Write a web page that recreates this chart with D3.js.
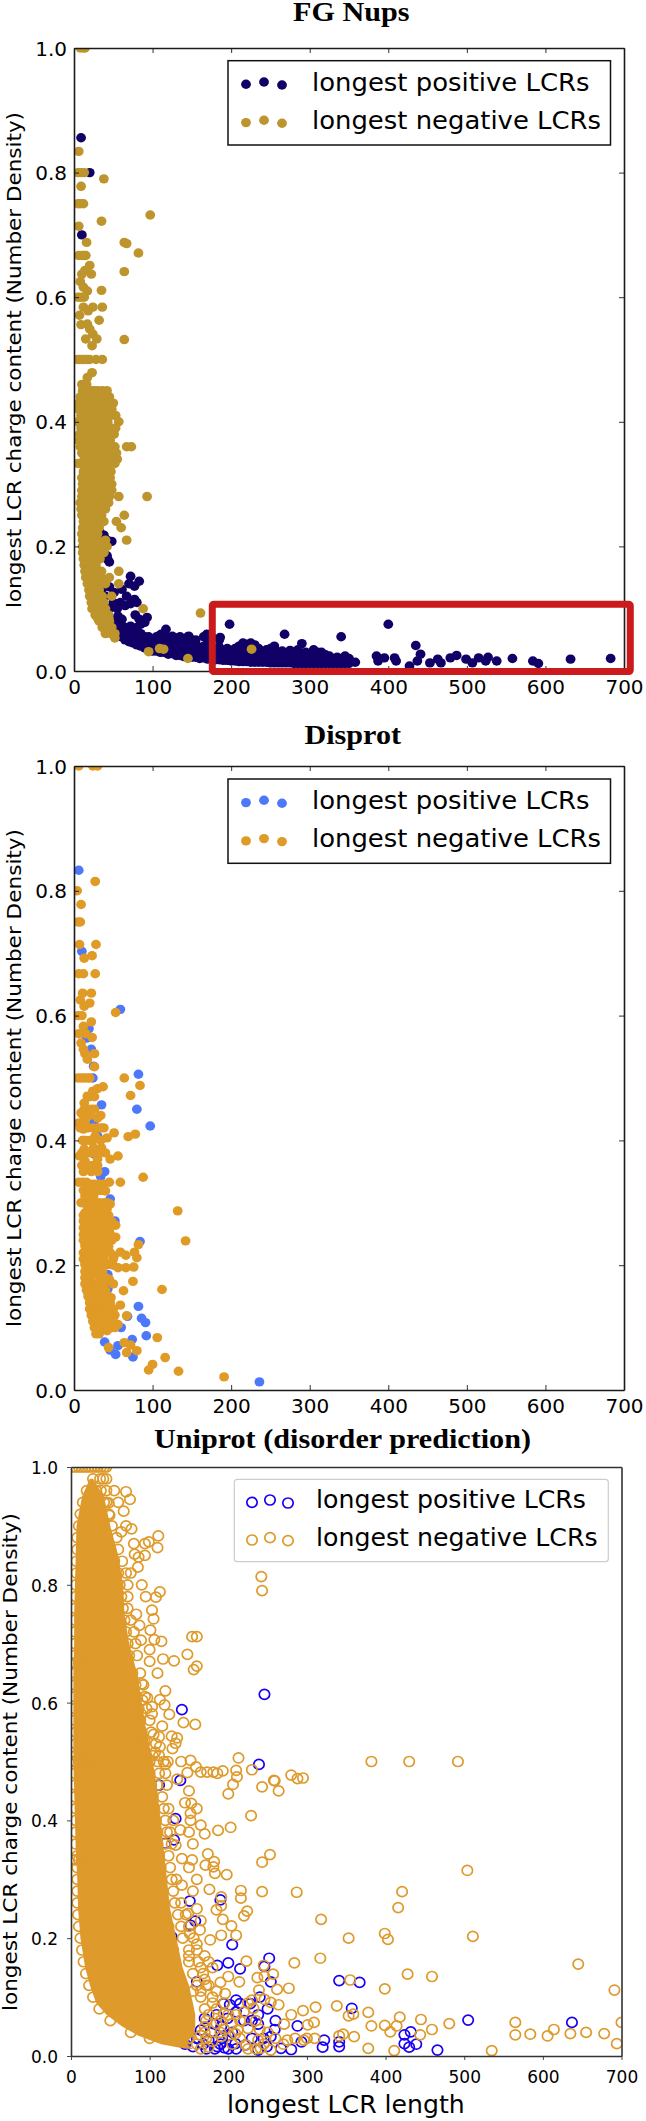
<!DOCTYPE html>
<html><head><meta charset="utf-8">
<script src="https://cdn.jsdelivr.net/npm/d3@7"></script>
<style>html,body{margin:0;padding:0;background:#fff}svg{display:block}</style>
</head><body>
<script>
// ---- shared ticks and labels
const xTicks = [0,100,200,300,400,500,600,700];
const yTicks = [0,0.2,0.4,0.6,0.8,1.0];
const yAxisTitle = "longest LCR charge content (Number Density)";
const xAxisTitle = "longest LCR length";
const seriesNames = ["longest positive LCRs","longest negative LCRs"];
const panelTitles = ["FG Nups","Disprot","Uniprot (disorder prediction)"];

// ---- FG Nups: positive LCRs
const fgPositive = [[9,.856],[20,.8],[10,.7],[30,.29],[35,.257],[28,.225],[33,.222],[38,.218],[42,.21],[48,.208],[30,.205],[36,.2],[43,.179],[45,.175],[42,.185],
[72,.152],[83,.144],[77,.136],[70,.14],[61,.131],[67,.12],[77,.115],[51,.126],[59,.11],[35,.131],[45,.135],[40,.12],[55,.1],[65,.105],[72,.108],[80,.11],[50,.11],[45,.1],[56,.088],[61,.083],[56,.072],[93,.086],[83,.083],[72,.072],[85,.075],[78,.09],[90,.078],[117,.067],[111,.059],[130,.053],[146,.056],[169,.059],[186,.054],[198,.075],[268,.059],[290,.044],[340,.055],[400,.075],[435,.041],[441,.027],[437,.016],[427,.008],[385,.024],[387,.016],[395,.021],[408,.021],[410,.016],[453,.013],[463,.019],[467,.013],[479,.021],[487,.025],[499,.019],[507,.013],[515,.021],[524,.016],[527,.022],[538,.016],[558,.02],[584,.016],[591,.012],[632,.019],[683,.02]];
const fgPositiveColumns = [[55,[.06,.07,.08]],[60,[.055,.065,.075]],[65,[.05,.06,.07]],[70,[.047,.055,.065]],[75,[.045,.055,.065]],[80,[.042,.05,.06,.07]],[85,[.04,.05,.06]],[90,[.037,.045,.055]],[95,[.035,.045,.055]],[100,[.032,.04,.05]],[105,[.032,.043,.055]],[110,[.03,.038,.048,.058]],[115,[.03,.04,.05,.06]],[120,[.027,.035,.045,.052]],[125,[.028,.038,.048,.056]],[130,[.025,.032,.042,.05]],[135,[.025,.035,.045,.055]],[140,[.023,.03,.04,.052]],[145,[.024,.034,.044,.055]],[150,[.022,.03,.04,.05]],[155,[.022,.032,.042,.05]],[160,[.02,.028,.038]],[165,[.021,.03,.04,.055]],[170,[.019,.027,.035,.05]],[175,[.02,.03,.04,.055]],[180,[.018,.026,.034]],[185,[.018,.028,.038,.05]],[190,[.017,.025,.033]],[195,[.017,.027,.036]],[200,[.016,.024,.032]],[205,[.016,.026,.036]],[210,[.015,.023,.033,.04]],[215,[.015,.025,.035,.045]],[220,[.015,.023,.033,.043]],[225,[.014,.024,.034,.045]],[230,[.014,.022,.032,.042]],[235,[.014,.024,.036]],[240,[.014,.022,.03]],[245,[.014,.024,.034]],[250,[.013,.021,.03,.036]],[255,[.013,.023,.033,.04]],[260,[.013,.02,.03]],[265,[.013,.023,.032]],[270,[.013,.02,.028]],[275,[.013,.023,.033]],[280,[.012,.02,.03]],[285,[.012,.022,.034]],[290,[.012,.02,.028]],[295,[.012,.022,.03]],[300,[.012,.02,.026]],[305,[.012,.022,.034]],[310,[.012,.02,.03]],[315,[.012,.022,.03]],[320,[.012,.019,.026]],[325,[.012,.024]],[330,[.012,.02]],[335,[.012,.022]],[340,[.012,.02]],[345,[.012,.024]],[350,[.012,.02]],[358,[.014]]];

// ---- FG Nups: negative LCRs
const fgNegative = [[8,1],[12,1],[14,1],[6,.834],[5,.8],[9,.8],[13,.8],[38,.79],[9,.778],[5,.75],[8,.75],[12,.75],[6,.714],[35,.722],[97,.732],[16,.688],[64,.688],[67,.686],[82,.671],[6,.667],[10,.667],[13,.667],[15,.667],[20,.651],[22,.637],[14,.643],[10,.637],[64,.641],[8,.625],[12,.616],[17,.61],[35,.611],[5,.6],[9,.6],[13,.6],[12,.584],[18,.578],[24,.584],[36,.584],[7,.571],[9,.556],[17,.557],[32,.563],[20,.549],[24,.541],[15,.533],[29,.533],[64,.532],[23,.522],[4,.5],[7,.5],[10,.5],[13,.5],[17,.5],[20,.5],[28,.5],[36,.5],[23,.479],[17,.471],[13,.46],[161,.093],[95,.031],[109,.036],[114,.035],[145,.02],[226,.035]];
const fgNegativeRows = [[.46,[10,16]],[.45,[11,14,18,22,26,30,36,42]],[.44,[8,12,16,22,28,35,40,45]],[.43,[6,10,14,20,26,34,44,50]],[.42,[6,10,15,22,26,33,38,42,48]],[.41,[9,14,19,24,30,35,40,46,53]],[.40,[5,10,14,18,24,31,37,43,57]],[.39,[9,14,20,25,32,37,42,47,53]],[.38,[7,12,18,24,30,36,40,44,51]],[.37,[6,10,14,20,27,33,38,42,46]],[.36,[8,12,17,22,29,36,44,52,67,73]],[.35,[10,15,21,28,35,42,48,54]],[.34,[13,18,24,30,38,46,55]],[.333,[5,9,13,17,21,25,30,38,42,46,52]],[.32,[12,16,22,27,32,36,42,47]],[.31,[10,14,19,26,31,35,40,46]],[.30,[11,15,20,25,30,35,40,44,48]],[.29,[10,14,19,24,29,34,38,44,48]],[.28,[10,15,20,25,30,36,40,45,57,93]],[.27,[8,12,17,22,28,32,36,44]],[.26,[9,14,20,26,30,35,40]],[.25,[10,14,20,26,31,35,64]],[.24,[12,16,22,27,31,38,54]],[.23,[11,15,20,26,32,60]],[.22,[10,14,18,23,30]],[.21,[11,16,22,26,30,40,67]],[.20,[11,15,20,26,31,36,42]],[.19,[11,14,19,24,29,38]],[.18,[12,16,22,28,33]],[.17,[13,17,23,28]],[.16,[14,18,22,28,35,57]],[.15,[15,20,25,30,35,45]],[.14,[17,22,28,34,40,57]],[.13,[19,24,28,32]],[.12,[20,25,31,36,48]],[.11,[22,27,32,38]],[.10,[23,28,36,40,88]],[.09,[27,32,38,44]],[.085,[30,36,44]],[.08,[32,38,45]],[.07,[36,42,48]],[.06,[40,47,52]],[.053,[52]]];
const fgHighlightX = [176,708];
const fgHighlightY = [-0.001,0.107];

// ---- Disprot
const disprotPositive = [[6,.833],[10,.703],[59,.61],[19,.579],[16,.564],[22,.546],[25,.519],[82,.506],[24,.5],[35,.457],[80,.45],[97,.423],[25,.428],[30,.407],[12,.4],[26,.378],[39,.35],[34,.342],[46,.306],[52,.271],[84,.238],[30,.217],[43,.185],[18,.156],[43,.162],[82,.134],[29,.135],[48,.124],[68,.118],[86,.115],[91,.108],[46,.111],[60,.1],[92,.087],[74,.081],[39,.077],[56,.071],[53,.057],[75,.053],[46,.064],[236,.013]];
const disprotNegative = [[6,1],[24,1],[30,1],[27,.815],[4,.8],[9,.778],[5,.75],[8,.75],[7,.714],[28,.714],[13,.692],[23,.696],[6,.667],[12,.667],[27,.667],[11,.636],[22,.636],[8,.625],[20,.62],[13,.615],[5,.6],[10,.6],[53,.605],[22,.59],[12,.583],[6,.571],[15,.571],[23,.565],[9,.556],[12,.546],[26,.539],[14,.539],[17,.53],[26,.518],[64,.5],[5,.5],[9,.5],[13,.5],[17,.5],[20,.5],[37,.486],[30,.483],[84,.488],[72,.472],[24,.479],[17,.471],[13,.46],[9,.444],[17,.45],[30,.436],[6,.428],[14,.428],[38,.42],[51,.412],[42,.404],[69,.406],[78,.41],[12,.418],[27,.407],[11,.4],[25,.388],[35,.388],[13,.386],[7,.375],[56,.375],[46,.37],[30,.37],[14,.367],[19,.356],[88,.341],[59,.333],[6,.333],[11,.333],[16,.333],[45,.333],[27,.322],[40,.319],[14,.311],[25,.311],[46,.298],[9,.3],[132,.287],[17,.295],[30,.292],[14,.284],[35,.279],[12,.271],[22,.276],[53,.264],[30,.265],[17,.26],[12,.249],[53,.245],[32,.241],[142,.239],[82,.233],[14,.231],[22,.233],[43,.225],[77,.221],[59,.221],[66,.216],[80,.212],[51,.215],[14,.215],[22,.209],[30,.204],[43,.201],[14,.201],[56,.196],[66,.196],[76,.197],[17,.188],[27,.188],[45,.177],[75,.174],[35,.169],[17,.172],[112,.161],[63,.159],[22,.164],[30,.161],[47,.148],[25,.145],[35,.143],[59,.136],[46,.129],[27,.129],[67,.119],[43,.116],[30,.116],[56,.105],[33,.103],[48,.1],[42,.095],[106,.084],[64,.076],[72,.072],[44,.068],[80,.063],[67,.06],[116,.052],[100,.041],[95,.032],[133,.03],[191,.021]];
const disprotNegativeRows = [[.47,[20,26]],[.45,[13,22,26]],[.44,[12,20,34]],[.42,[8,18,24,30,35]],[.40,[16,20,24,34]],[.38,[10,18,22,28,32,40]],[.36,[10,18,24,30]],[.35,[12,22,30]],[.33,[21,26,32,38]],[.32,[12,18,22,32,36]],[.30,[12,20,26,32,38,42]],[.29,[22,26,34,42]],[.28,[12,18,25,28,38,44]],[.27,[16,20,30,34,42,48]],[.26,[12,24,28,36,46]],[.25,[16,20,24,30,36,40,46]],[.24,[12,18,24,28,40,48]],[.23,[18,30,36,44]],[.22,[12,18,20,26,34,40,46]],[.21,[12,18,28,32,38,50]],[.20,[20,26,34,50]],[.19,[14,18,22,24,30,36]],[.18,[14,20,32,37,40]],[.17,[14,24,28,38,50]],[.16,[16,20,26,34,40]],[.15,[18,22,24,32,38,44]],[.14,[20,24,28,32,40,46]],[.13,[20,24,30,32,38,50]],[.12,[22,26,34,40,46,52]],[.11,[24,28,34,38,42,50]],[.10,[26,30,36,44,52]],[.09,[28,32]]];

// ---- Uniprot
const uniprotPositive = [[141,.588],[246,.614],[239,.495],[139,.468],[86,.477],[112,.46],[133,.403],[131,.367],[120,.361],[190,.265],[151,.263],[158,.229],[152,.222],[205,.189],[128,.202],[252,.166],[186,.154],[200,.158],[246,.152],[215,.148],[254,.126],[160,.126],[341,.128],[367,.125],[357,.081],[210,.095],[202,.087],[215,.089],[228,.089],[194,.089],[238,.07],[238,.054],[505,.061],[637,.057],[288,.051],[259,.045],[254,.033],[293,.024],[322,.027],[320,.015],[341,.024],[341,.016],[432,.041],[424,.036],[424,.021],[439,.02],[430,.015],[466,.01],[280,.011],[267,.013],[249,.016],[209,.021],[186,.016],[195,.014],[155,.016],[175,.027],[165,.044],[181,.055],[191,.05],[170,.064],[199,.064],[238,.01],[222,.019],[172,.012],[183,.012],[192,.03],[205,.04],[220,.06],[210,.075],[200,.035],[178,.04],[185,.07],[160,.03],[145,.02],[150,.04],[168,.02],[190,.02],[200,.012],[210,.012],[230,.03],[245,.03],[260,.06],[230,.06],[240,.1],[250,.08]];
const uniprotNegative = [[70,.958],[75,.945],[67,.925],[48,.939],[49,.918],[64,.89],[77,.895],[111,.883],[94,.87],[99,.873],[110,.863],[94,.85],[81,.852],[86,.847],[113,.788],[108,.779],[103,.757],[105,.742],[83,.75],[101,.723],[87,.731],[154,.712],[160,.712],[106,.707],[115,.704],[89,.706],[117,.674],[131,.671],[148,.682],[160,.662],[156,.656],[242,.814],[243,.79],[90,.632],[97,.608],[113,.605],[119,.596],[91,.604],[103,.593],[89,.581],[103,.581],[143,.566],[158,.563],[116,.56],[105,.546],[112,.542],[128,.543],[133,.531],[129,.522],[113,.525],[107,.516],[94,.533],[213,.506],[382,.5],[430,.5],[492,.5],[152,.502],[123,.5],[120,.495],[159,.491],[148,.481],[165,.482],[173,.482],[181,.482],[193,.484],[186,.48],[210,.485],[230,.486],[258,.468],[280,.477],[288,.471],[295,.472],[211,.474],[206,.461],[243,.457],[259,.467],[264,.45],[200,.445],[153,.429],[152,.412],[229,.408],[152,.4],[139,.384],[165,.392],[170,.377],[187,.383],[203,.388],[133,.358],[174,.343],[253,.342],[243,.329],[182,.33],[181,.321],[171,.324],[183,.31],[198,.308],[154,.333],[141,.335],[504,.315],[141,.29],[176,.283],[216,.281],[243,.279],[287,.278],[421,.279],[216,.268],[191,.27],[191,.255],[185,.248],[416,.252],[224,.246],[220,.238],[318,.232],[193,.232],[204,.221],[149,.242],[399,.208],[403,.198],[353,.2],[511,.203],[210,.205],[191,.205],[177,.197],[164,.214],[151,.208],[317,.166],[223,.161],[284,.158],[245,.154],[645,.156],[428,.139],[459,.135],[257,.139],[237,.133],[246,.135],[355,.129],[214,.126],[200,.135],[399,.114],[277,.115],[239,.112],[262,.113],[691,.112],[196,.106],[230,.095],[246,.096],[254,.091],[264,.087],[311,.083],[338,.085],[295,.077],[280,.07],[378,.074],[359,.071],[353,.068],[445,.062],[418,.066],[309,.057],[301,.053],[271,.054],[565,.057],[382,.051],[399,.052],[414,.051],[481,.055],[459,.045],[406,.041],[565,.036],[584,.037],[614,.045],[606,.034],[635,.038],[655,.04],[678,.038],[444,.036],[346,.037],[341,.034],[360,.033],[694,.021],[378,.013],[411,.009],[535,.009],[700,.057],[296,.027],[275,.027],[241,.013],[254,.01],[238,.027],[222,.019],[209,.038],[191,.033],[225,.047],[212,.044],[194,.072],[210,.07],[232,.081],
[150,.03],[160,.02],[165,.035],[170,.05],[175,.07],[180,.09],[185,.11],[190,.125],[195,.09],[200,.07],[205,.055],[215,.03],[220,.075],[225,.09],[235,.06],[240,.045],[250,.04],[260,.03],[270,.02],[285,.03],[300,.03],[310,.03],[225,.012],[235,.012],[245,.02],[205,.02],[195,.045],[185,.055],[175,.015],[165,.012],[180,.025],[215,.06],[150,.17],[160,.19],[170,.17],[175,.16],[170,.13],[180,.15],[165,.15],[155,.11],[165,.11],[175,.12],[160,.25],[165,.23],[155,.28],[160,.3],[150,.32],[155,.36],[150,.38],[160,.42],[145,.43],[150,.45],[135,.47],[140,.5],[135,.54],[125,.58],[120,.62],[110,.65],[100,.67],[100,.69],[95,.78],[90,.8],[85,.83],[80,.87],[70,.9],[60,.94],[55,.96],[45,.96]];
const uniprotEdgeRows = [[1,[2,6,10,14,18,22,26,30,34,38,42,45]],[.98,[28,37,41,45]],[.96,[20,32,38]],[.94,[15,30,42,45]],[.92,[12,30,48]],[.90,[10,38,52]],[.88,[8,45,58]],[.86,[8,50,60]],[.84,[7,55,65]],[.82,[7,60,70,76]],[.80,[6,62,72]],[.78,[6,64,72]],[.76,[5,66,72]],[.74,[5,68,76]],[.72,[5,70,80]],[.70,[5,72,82]],[.68,[5,74,84]],[.667,[2,6,10,14,20]],[.65,[5,78,88]],[.63,[5,82,92]],[.61,[5,84,94]],[.59,[5,86,96]],[.57,[5,88,100]],[.55,[6,90,102]],[.53,[6,92,108]],[.51,[6,96,104,112]],[.5,[2,6,10,14,18,22,26,30,100,110,118]],[.48,[5,100,112,120]],[.46,[5,102,110,122]],[.44,[5,104,116]],[.42,[6,106,118,124]],[.40,[6,108,120,130]],[.38,[6,110,122,126]],[.36,[6,110,120,128]],[.34,[8,112,124]],[.333,[2,6,10,14]],[.32,[8,114,126]],[.30,[8,114,128,134]],[.28,[8,116,130]],[.26,[8,118,132,140]],[.24,[9,120,136,146]],[.22,[10,124,140,150]],[.20,[12,126,142,156]],[.18,[14,130,150,160]],[.16,[16,132,150,162]],[.14,[19,136,155,168]],[.12,[23,140,160,172]],[.10,[28,144,165,180]],[.08,[36,146,170,185]],[.06,[50,148,172,190]],[.04,[76,150,170,190]],[.03,[100,150,172]]];
// Where the rings overlap into a solid block, single rings cannot be read: only its outline is.
const uniprotSolidY =     [.98,.95,.9,.85,.8,.75,.7,.65,.6,.55,.5,.45,.4,.35,.3,.25,.2,.15,.12,.09,.07,.05,.035,.027,.02,.015,.012];
const uniprotSolidLeft =  [24,14,7,6,5,4,4,3,3,3,3,4,5,6,8,9,12,18,24,32,45,65,85,100,115,135,150];
const uniprotSolidRight = [28,42,50,60,66,68,74,84,90,96,104,110,114,118,122,126,134,142,150,155,158,158,155,150,148,152,155];

const fromRows = rows => rows.flatMap(([y,xs]) => xs.map(x => [x,y]));
const fromColumns = cols => cols.flatMap(([x,ys]) => ys.map(y => [x,y]));

const svg = d3.select("body").append("svg").attr("width",646).attr("height",2121);
const SANS = "'DejaVu Sans',sans-serif", SERIF = "'Liberation Serif',serif";

function panel(o){
  const x = d3.scaleLinear().domain([0,700]).range([o.left,o.right]);
  const y = d3.scaleLinear().domain([0,1]).range([o.bottom,o.top]);
  const clip = "clip"+o.id;
  svg.append("clipPath").attr("id",clip).append("rect")
    .attr("x",o.left).attr("y",o.top).attr("width",o.right-o.left).attr("height",o.bottom-o.top);
  const g = svg.append("g").attr("clip-path",`url(#${clip})`);
  const drawMarks = (data,color) => g.append("g").selectAll("ellipse").data(data).join("ellipse")
    .attr("cx",d=>x(d[0])).attr("cy",d=>y(d[1])).attr("rx",o.rx).attr("ry",o.ry)
    .attr("fill",o.hollow?"none":color).attr("stroke",o.hollow?color:"none").attr("stroke-width",o.hollow?1.7:0);
  drawMarks(o.pos,o.colors[0]);
  if(o.solid){
    g.append("path").datum(d3.range(o.solid.y.length))
      .attr("d",d3.area().y(i=>y(o.solid.y[i])).x0(i=>x(o.solid.left[i])).x1(i=>x(o.solid.right[i])))
      .attr("fill",o.colors[1]);
  }
  drawMarks(o.neg,o.colors[1]);

  const tick = o.tickLen;
  const axes = svg.append("g").attr("class","axes");
  const styleAxis = s => {
    s.select(".domain").attr("stroke",o.spine).attr("stroke-width",1.6);
    s.selectAll(".tick line").attr("stroke",o.spine).attr("stroke-width",0.9);
  };
  const bottom = axes.append("g").attr("transform",`translate(0,${o.bottom})`)
    .call(d3.axisBottom(x).tickValues(xTicks).tickSize(o.outward?tick:-tick).tickSizeOuter(0).tickFormat(d3.format("d"))).call(styleAxis);
  bottom.selectAll("text").attr("dy",null)
    .attr("y",o.xLabelBase-o.bottom).attr("font-family",SANS).attr("font-size",o.tickFont).attr("fill","#000");
  const left = axes.append("g").attr("transform",`translate(${o.left},0)`)
    .call(d3.axisLeft(y).tickValues(yTicks).tickSize(o.outward?tick:-tick).tickSizeOuter(0).tickFormat(d3.format(".1f"))).call(styleAxis);
  left.selectAll("text").attr("dy",null).attr("x",o.yLabelRight-o.left).attr("y",o.yLabelShift)
    .attr("text-anchor","end").attr("font-family",SANS).attr("font-size",o.tickFont).attr("fill","#000");
  axes.append("g").attr("transform",`translate(0,${o.top})`)
    .call(d3.axisTop(x).tickValues(o.outward?[]:xTicks).tickSize(-tick).tickSizeOuter(0).tickFormat("")).call(styleAxis);
  axes.append("g").attr("transform",`translate(${o.right},0)`)
    .call(d3.axisRight(y).tickValues(o.outward?[]:yTicks).tickSize(-tick).tickSizeOuter(0).tickFormat("")).call(styleAxis);

  svg.append("text").text(o.title).attr("x",o.titleX[0]).attr("y",o.titleY)
    .attr("font-family",SERIF).attr("font-weight","bold").attr("font-size",o.titleFont).attr("fill","#000")
    .attr("textLength",o.titleX[1]-o.titleX[0]).attr("lengthAdjust","spacingAndGlyphs");
  svg.append("text").text(yAxisTitle)
    .attr("transform",`translate(${o.yTitleX},${o.yTitleMid}) rotate(-90)`).attr("text-anchor","middle")
    .attr("font-family",SANS).attr("font-size",o.yTitleFont).attr("fill","#000")
    .attr("textLength",o.yTitleLen).attr("lengthAdjust","spacingAndGlyphs");

  const L = o.legend;
  svg.append("rect").attr("x",L.x).attr("y",L.y).attr("width",L.w).attr("height",L.h).attr("rx",L.r)
    .attr("fill","#fff").attr("stroke",L.stroke).attr("stroke-width",L.sw);
  seriesNames.forEach((name,i)=>{
    L.dotX.forEach((dx,j)=>{
      svg.append("ellipse").attr("cx",dx).attr("cy",L.base[i]+L.dotDy[j]).attr("rx",o.rx).attr("ry",o.ry)
        .attr("fill",o.hollow?"none":o.colors[i]).attr("stroke",o.hollow?o.colors[i]:"none").attr("stroke-width",o.hollow?1.7:0);
    });
    svg.append("text").text(name).attr("x",L.textX).attr("y",L.base[i])
      .attr("font-family",SANS).attr("font-size",L.font).attr("fill","#000")
      .attr("textLength",L.len[i]).attr("lengthAdjust","spacingAndGlyphs");
  });
  return {x,y};
}

const common = {left:74,right:624,rx:4.9,ry:4.7,tickLen:5,spine:"#1a1a1a",tickFont:20,yLabelRight:67,yLabelShift:7,titleFont:28,yTitleFont:20,yTitleX:21};
const legendFilled = (y,base)=>({x:228,y,w:382.5,h:84.3,r:0,stroke:"#111",sw:1.5,dotX:[246,264,282],dotDy:[-6.4,-8.7,-5.7],textX:312,font:25,base,len:[277.5,289]});

const p1 = panel({...common,id:1,top:48,bottom:671,colors:["#110066","#bd952c"],
  pos:fgPositive.concat(fromColumns(fgPositiveColumns)),neg:fgNegative.concat(fromRows(fgNegativeRows)),
  xLabelBase:694,title:panelTitles[0],titleX:[293,409.5],titleY:21,yTitleMid:360,yTitleLen:496,
  legend:legendFilled(60.7,[90.7,129])});
svg.append("rect")
  .attr("x",p1.x(fgHighlightX[0])).attr("y",p1.y(fgHighlightY[1]))
  .attr("width",p1.x(fgHighlightX[1])-p1.x(fgHighlightX[0])).attr("height",p1.y(fgHighlightY[0])-p1.y(fgHighlightY[1]))
  .attr("rx",1.5).attr("fill","none").attr("stroke","#cb1a1c").attr("stroke-width",7);

panel({...common,id:2,top:766,bottom:1390,colors:["#4d78fa","#e09a26"],
  pos:disprotPositive,neg:disprotNegative.concat(fromRows(disprotNegativeRows)),
  xLabelBase:1413,title:panelTitles[1],titleX:[304.5,401],titleY:744,yTitleMid:1078,yTitleLen:498,
  legend:legendFilled(779,[809,847.3])});

panel({...common,id:3,left:71,right:621.5,top:1467,bottom:2056,colors:["#1a00f5","#de9a2b"],hollow:true,outward:true,rx:5.2,ry:5,
  pos:uniprotPositive,neg:uniprotNegative.concat(fromRows(uniprotEdgeRows)),
  solid:{y:uniprotSolidY,left:uniprotSolidLeft,right:uniprotSolidRight},
  spine:"#333",tickFont:17,yLabelRight:58,yLabelShift:6.5,tickLen:4,
  xLabelBase:2082.7,title:panelTitles[2],titleX:[154,531],titleY:1448,yTitleMid:1762,yTitleLen:498,yTitleX:17,
  legend:{x:234.3,y:1479.3,w:374,h:82.4,r:3,stroke:"#ccc",sw:1.2,dotX:[252,270,288],dotDy:[-5.7,-8,-5],textX:316,font:24.5,base:[1508,1545.7],len:[270,281.6]}});

svg.append("text").text(xAxisTitle).attr("x",227).attr("y",2112.7)
  .attr("font-family",SANS).attr("font-size",24).attr("fill","#000")
  .attr("textLength",237.7).attr("lengthAdjust","spacingAndGlyphs");
</script>
</body></html>
